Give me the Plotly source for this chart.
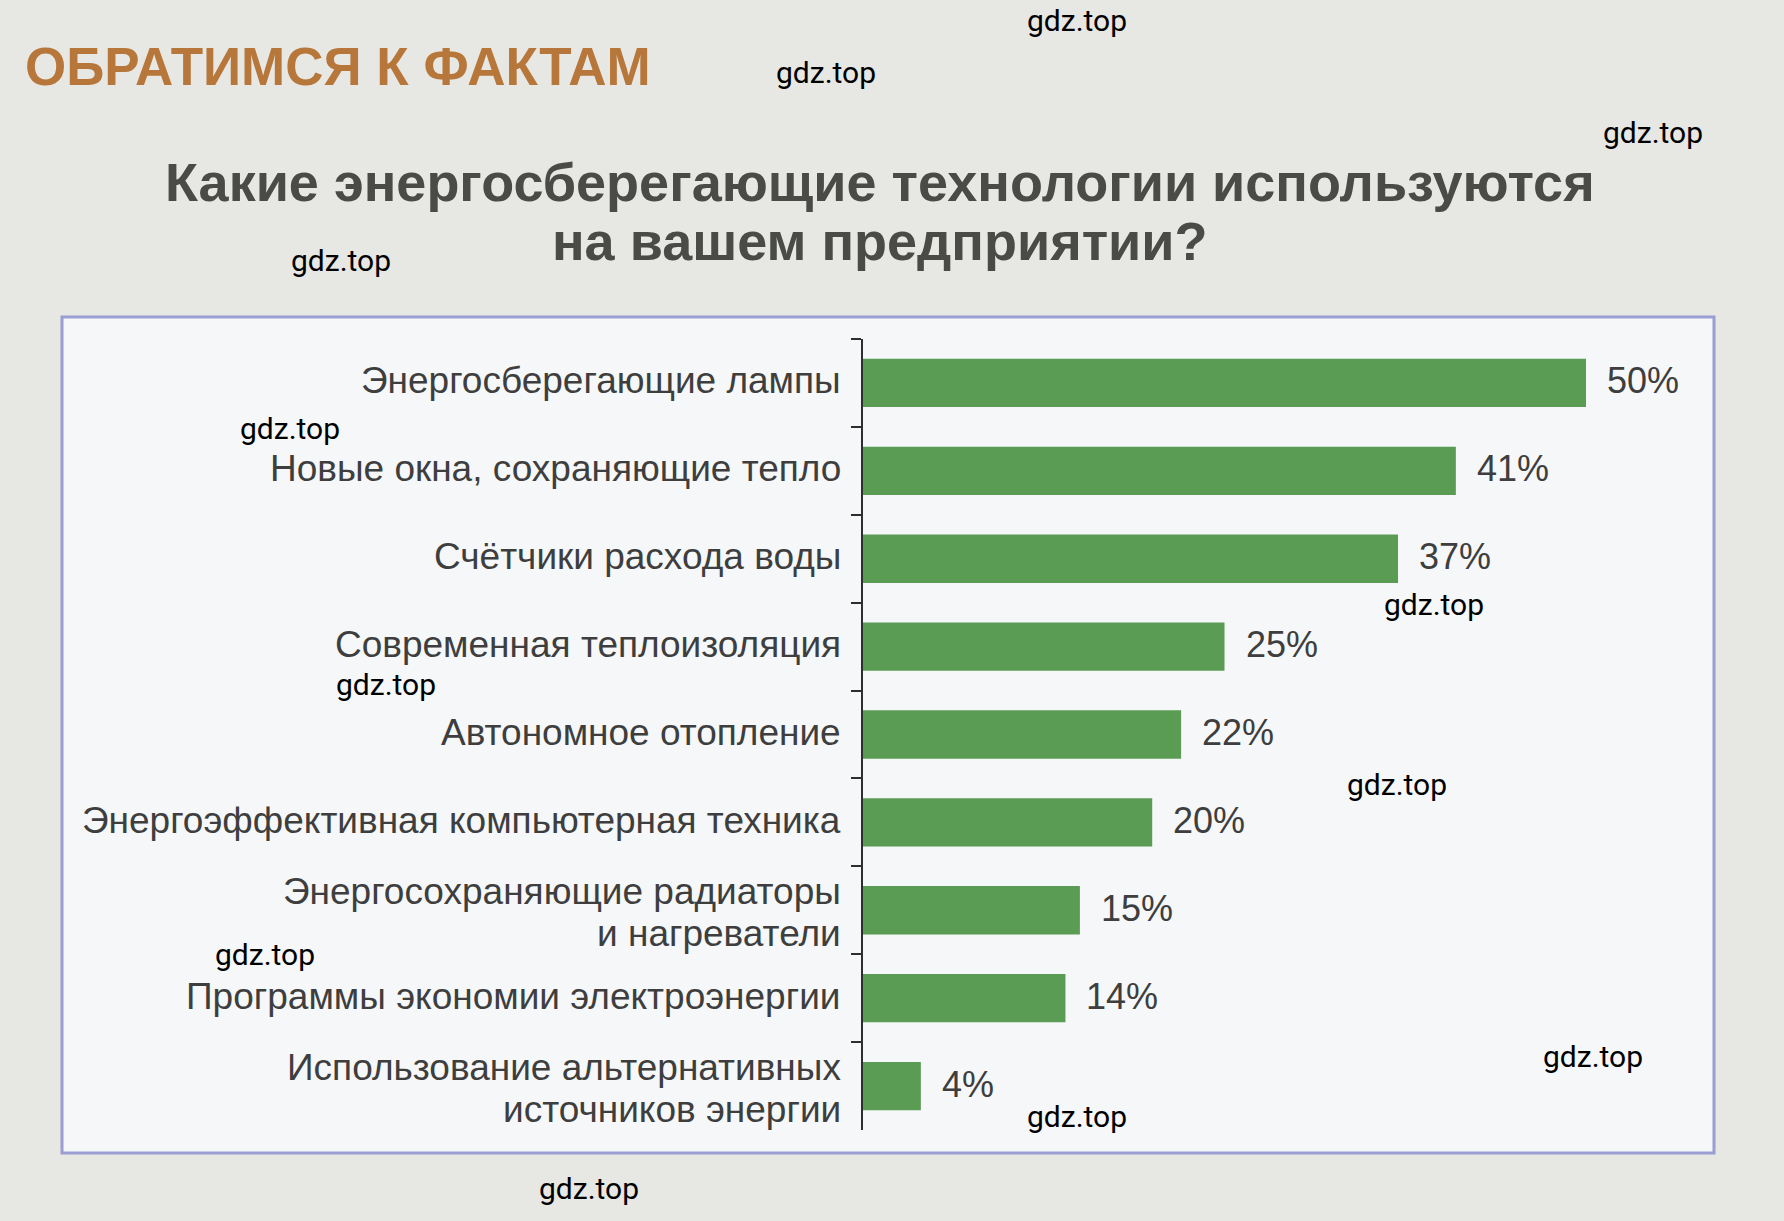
import plotly.graph_objects as go

W, H = 1784, 1221

categories = [
    "Энергосберегающие лампы",
    "Новые окна, сохраняющие тепло",
    "Счётчики расхода воды",
    "Современная теплоизоляция",
    "Автономное отопление",
    "Энергоэффективная компьютерная техника",
    "Энергосохраняющие радиаторы<br>и нагреватели",
    "Программы экономии электроэнергии",
    "Использование альтернативных<br>источников энергии",
]
values = [50, 41, 37, 25, 22, 20, 15, 14, 4]
value_labels = ["50%", "41%", "37%", "25%", "22%", "20%", "15%", "14%", "4%"]

header_text = "ОБРАТИМСЯ К ФАКТАМ"
title_line1 = "Какие энергосберегающие технологии используются"
title_line2 = "на вашем предприятии?"

watermark_text = "gdz.top"
watermark_pos = [(1077, 21), (826, 72), (1653, 132), (341, 261), (290, 428),
                 (1434, 604), (386, 684), (1397, 784), (265, 954), (1593, 1056),
                 (1077, 1116), (589, 1188)]


def px(x):
    return x / W


def py(y):
    return 1 - y / H


FONT = "Liberation Sans, Arial, Helvetica, sans-serif"
TEXT_COLOR = "#3e3e3e"

fig = go.Figure()
fig.add_trace(go.Bar(
    x=values,
    y=categories,
    orientation="h",
    marker=dict(color="#5a9c53", line=dict(width=0)),
    width=0.55,
    hoverinfo="skip",
))

annotations = []
# category labels (right-aligned next to the axis), tight line spacing
LINE_GAP = 42
for cat in categories:
    lines = cat.split("<br>")
    n = len(lines)
    base = 2 if n == 1 else -2
    for i, line in enumerate(lines):
        shift = base + (n - 1) * LINE_GAP / 2 - i * LINE_GAP
        annotations.append(dict(
            x=px(843), y=cat, xref="paper", yref="y", text=line,
            showarrow=False, xanchor="right", yanchor="middle", yshift=shift,
            font=dict(family=FONT, size=37, color=TEXT_COLOR),
        ))

for v, lab, cat in zip(values, value_labels, categories):
    annotations.append(dict(
        x=v, y=cat, xref="x", yref="y", text=lab, showarrow=False,
        xanchor="left", yanchor="middle", xshift=19, yshift=2,
        font=dict(family=FONT, size=36, color=TEXT_COLOR),
    ))

annotations.append(dict(
    x=px(23), y=py(66), xref="paper", yref="paper", text=header_text,
    showarrow=False, xanchor="left", yanchor="middle",
    font=dict(family=FONT, size=53, color="#b7773a", weight="bold"),
))
annotations.append(dict(
    x=px(880), y=py(182), xref="paper", yref="paper", text=title_line1,
    showarrow=False, xanchor="center", yanchor="middle",
    font=dict(family=FONT, size=54, color="#4a4a46", weight="bold"),
))
annotations.append(dict(
    x=px(880), y=py(241), xref="paper", yref="paper", text=title_line2,
    showarrow=False, xanchor="center", yanchor="middle",
    font=dict(family=FONT, size=54, color="#4a4a46", weight="bold"),
))
for (wx, wy) in watermark_pos:
    annotations.append(dict(
        x=px(wx), y=py(wy), xref="paper", yref="paper", text=watermark_text,
        showarrow=False, xanchor="center", yanchor="middle",
        font=dict(family="Roboto, sans-serif", size=30, color="#000000"),
    ))

shapes = [dict(
    type="rect", xref="paper", yref="paper",
    x0=px(62), x1=px(1714), y0=py(1153), y1=py(317),
    line=dict(color="#9a9ed2", width=3), fillcolor="#f5f7f8", layer="below",
)]

axis_left = 863
unit_px = 14.46
xmax = 58
fig.update_layout(
    width=W, height=H,
    margin=dict(l=0, r=0, t=0, b=0),
    paper_bgcolor="#e7e7e3",
    plot_bgcolor="rgba(0,0,0,0)",
    showlegend=False,
    bargap=0.45,
    xaxis=dict(
        domain=[px(axis_left), px(axis_left + unit_px * xmax)],
        range=[0, xmax], visible=False, fixedrange=True,
    ),
    yaxis=dict(
        domain=[py(1130), py(339)],
        type="category",
        categoryorder="array", categoryarray=categories,
        range=[len(categories) - 0.5, -0.5],
        showline=True, linecolor="#2e2e2e", linewidth=2,
        ticks="outside", tickson="boundaries", ticklen=10,
        tickcolor="#2e2e2e", tickwidth=2,
        showgrid=False, zeroline=False,
        showticklabels=False,
        fixedrange=True,
    ),
    annotations=annotations,
    shapes=shapes,
)

fig.write_html("out.html")
